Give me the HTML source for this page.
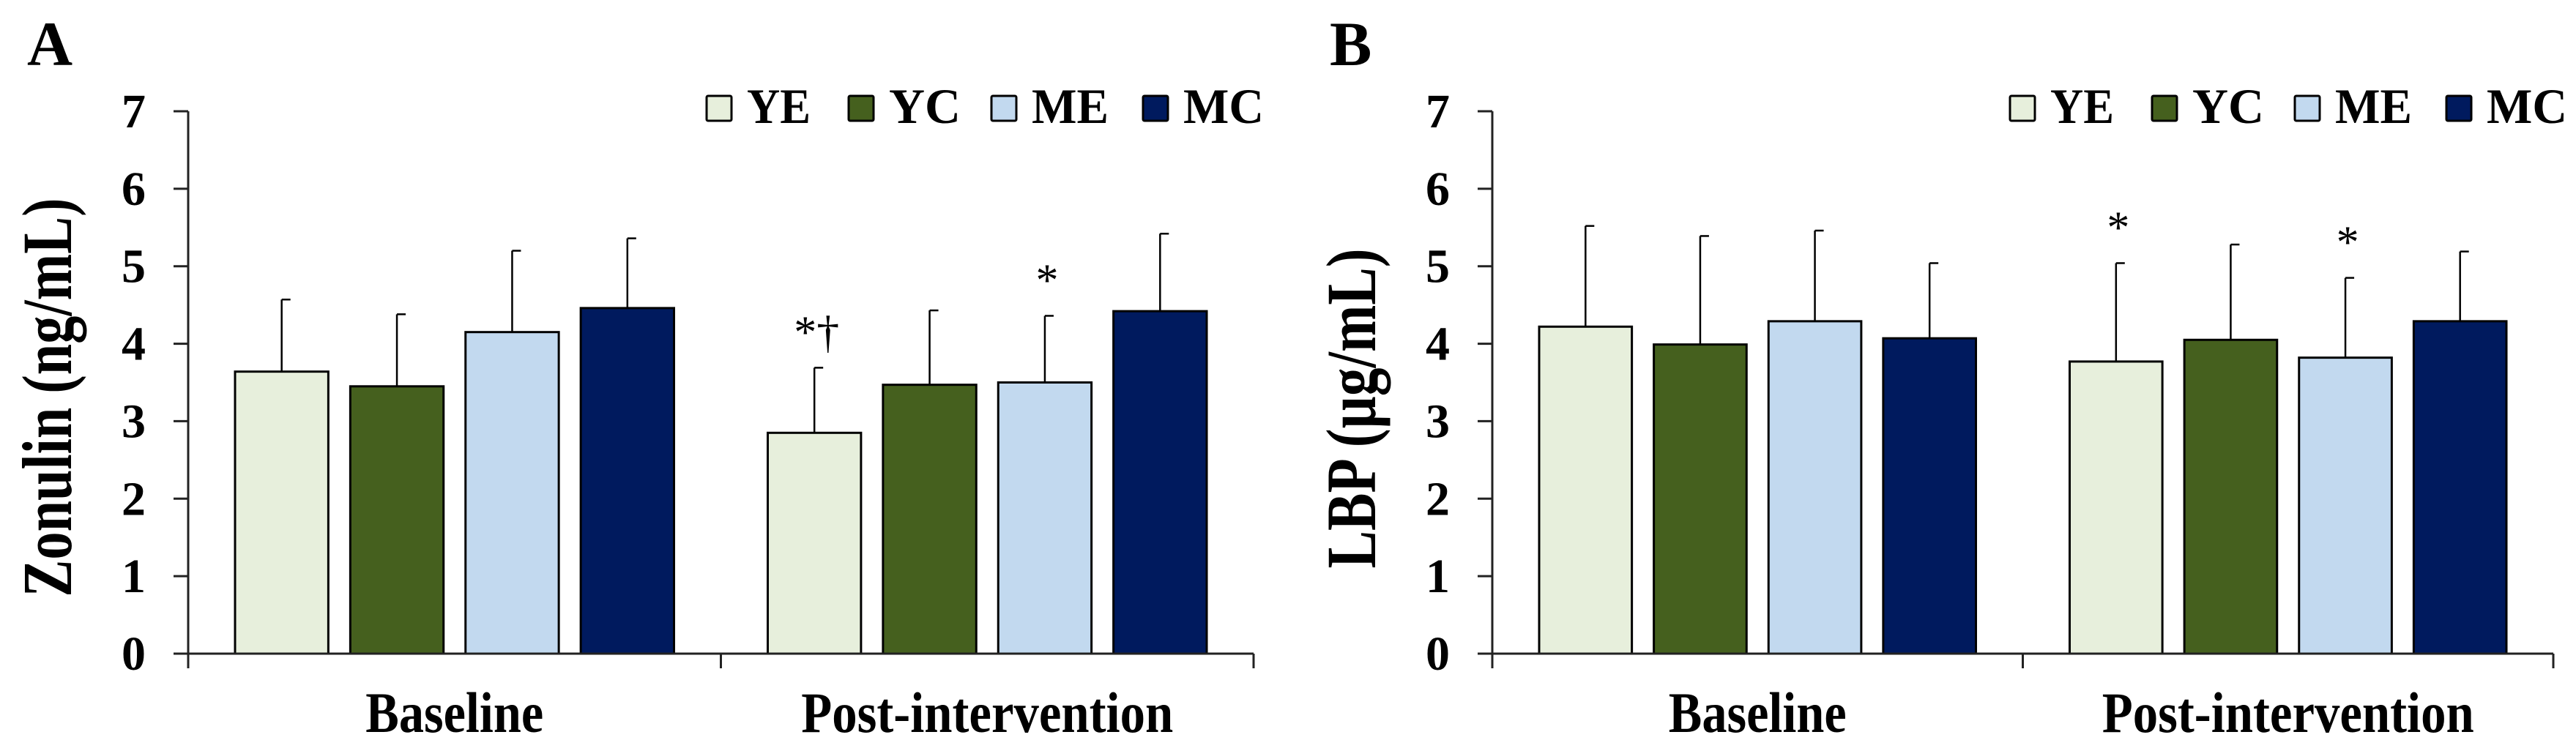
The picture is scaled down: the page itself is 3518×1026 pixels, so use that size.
<!DOCTYPE html>
<html><head><meta charset="utf-8"><style>
html,body{margin:0;padding:0;background:#fff;}
svg{display:block;font-family:"Liberation Serif",serif;font-weight:bold;}
</style></head>
<body>
<svg id="fig" width="3518" height="1026" viewBox="0 0 3518 1026" xmlns="http://www.w3.org/2000/svg"></svg>
<script>
const categories = ["Baseline", "Post-intervention"];
const seriesNames = ["YE", "YC", "ME", "MC"];
const colors = ["#e7efdc", "#45601e", "#c2d9ef", "#001a5e"];
const yTicks = [0, 1, 2, 3, 4, 5, 6, 7];
// Panel A: Zonulin
const zonulinMeans = [[3.64, 3.45, 4.15, 4.46], [2.85, 3.47, 3.50, 4.42]];
const zonulinErr = [[4.57, 4.38, 5.20, 5.36], [3.69, 4.43, 4.36, 5.42]];
const zonulinMarks = [["", "", "", ""], ["*†", "", "*", ""]];
// Panel B: LBP
const lbpMeans = [[4.22, 3.99, 4.29, 4.07], [3.77, 4.05, 3.82, 4.29]];
const lbpErr = [[5.52, 5.39, 5.46, 5.04], [5.04, 5.28, 4.85, 5.19]];
const lbpMarks = [["", "", "", ""], ["*", "", "*", ""]];

const NS = "http://www.w3.org/2000/svg";
const svg = document.getElementById("fig");
function el(tag, attrs, parent, text) {
  const e = document.createElementNS(NS, tag);
  for (const k in attrs) e.setAttribute(k, attrs[k]);
  if (text !== undefined) e.textContent = text;
  (parent || svg).appendChild(e);
  return e;
}

function panel(cfg) {
  const g = el("g", {});
  
  
  const x0 = cfg.axisX, x1 = cfg.axisRight, yBase = 893, yTop = 152;
  const yScale = v => yBase - (v / 7) * (yBase - yTop);
  const groupW = (x1 - x0) / categories.length;
  const margin = 64, barW = (groupW - 2 * margin - 3 * 30) / 4 + 0, gap = 30;

  const lab = el("text", {x: cfg.letterX, y: 89, "font-size": 86}, g, cfg.letter);
  
  

  const yt = el("text", {transform: `translate(${cfg.axisX - 160},${cfg.ytCenter}) rotate(-90)`, "text-anchor": "middle", "font-size": 96, textLength: cfg.ytLen, lengthAdjust: "spacingAndGlyphs"}, g, cfg.ytitle);
  
  

  // bars
  categories.forEach((c, ci) => {
    const gx = x0 + ci * groupW + margin;
    seriesNames.forEach((s, si) => {
      const bx = gx + si * (barW + gap);
      const v = cfg.means[ci][si], e = cfg.err[ci][si];
      const ex = bx + barW / 2;
      const eb = el("line", {x1: ex, x2: ex, y1: yScale(v), y2: yScale(e), stroke: "#000", "stroke-width": 2.5}, g);
      
      
      const cap = el("line", {x1: ex, x2: ex + 12, y1: yScale(e), y2: yScale(e), stroke: "#000", "stroke-width": 2.5}, g);
      
      
      const r = el("rect", {x: bx, y: yScale(v), width: barW, height: yBase - yScale(v), fill: colors[si], stroke: "#000", "stroke-width": 3}, g);
      
      
      const m = cfg.marks[ci][si];
      if (m) {
        const t = el("text", {x: ex + 3, y: yScale(e) - 28, "text-anchor": "middle", "font-size": 62, "font-weight": "normal"}, g, m);
        
        
      }
    });
    const ct = el("text", {x: x0 + (ci + 0.5) * groupW, y: 1000, "text-anchor": "middle", "font-size": 78, textLength: ci === 0 ? 243 : 508, lengthAdjust: "spacingAndGlyphs"}, g, c);
    
    
  });

  // axes
  const ya = el("line", {x1: x0, x2: x0, y1: yTop, y2: 913, stroke: "#222", "stroke-width": 3}, g);
  
  
  const xa = el("line", {x1: x0 - 20, x2: x1, y1: yBase, y2: yBase, stroke: "#222", "stroke-width": 3}, g);
  
  
  for (let i = 0; i <= categories.length; i++) {
    const tx = x0 + i * groupW;
    const tk = el("line", {x1: tx, x2: tx, y1: yBase, y2: 913, stroke: "#222", "stroke-width": 3}, g);
    
    
  }
  yTicks.forEach(t => {
    const yy = yScale(t);
    const tk = el("line", {x1: x0 - 20, x2: x0, y1: yy, y2: yy, stroke: "#222", "stroke-width": 3}, g);
    
    
    const tl = el("text", {x: x0 - 58, y: yy + 22, "text-anchor": "end", "font-size": 66}, g, String(t));
    
    
  });

  // legend
  const lx = cfg.legendX;
  const legOff = [0, 194, 389, 596];
  const legW = [87, 98, 105, 110];
  seriesNames.forEach((s, si) => {
    const bx = lx + legOff[si];
    const lg = el("g", {}, g);
    
    
    el("rect", {x: bx, y: 131, width: 34, height: 34, fill: colors[si], stroke: "#000", "stroke-width": 3, rx: 2}, lg);
    el("text", {x: bx + 55, y: 168, "font-size": 68, textLength: legW[si], lengthAdjust: "spacingAndGlyphs"}, lg, s);
  });
}

panel({name: "panel-a-zonulin", letter: "A", letterX: 37, axisX: 257, axisRight: 1712,
  ytitle: "Zonulin (ng/mL)", ytCenter: 543, ytLen: 545, legendX: 965,
  means: zonulinMeans, err: zonulinErr, marks: zonulinMarks});
panel({name: "panel-b-lbp", letter: "B", letterX: 1816, axisX: 2038, axisRight: 3487,
  ytitle: "LBP (µg/mL)", ytCenter: 558, ytLen: 437, legendX: 2745,
  means: lbpMeans, err: lbpErr, marks: lbpMarks});
</script>
</body></html>
